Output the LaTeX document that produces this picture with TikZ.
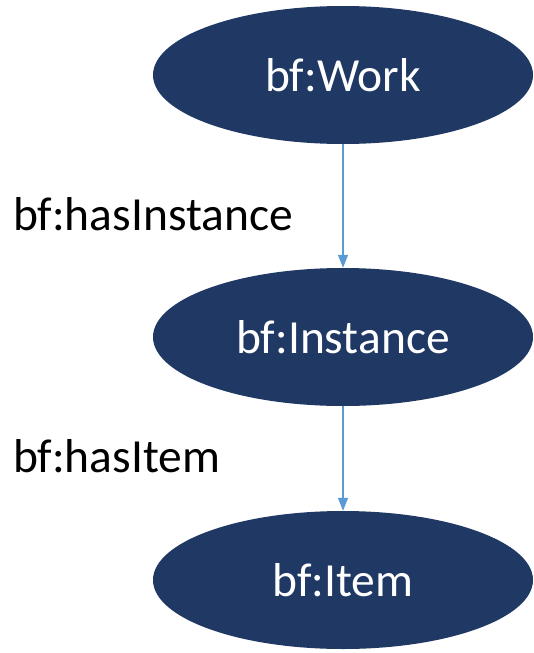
\documentclass[tikz,border=0pt]{standalone}
\usepackage{fontspec}
\setmainfont{Carlito}
\usetikzlibrary{shapes.geometric,arrows.meta}
\definecolor{navy}{RGB}{31,56,100}
\definecolor{linkblue}{RGB}{91,155,213}
\begin{document}
\begin{tikzpicture}[x=1pt,y=-1pt,
  classnode/.style={ellipse, fill=navy, draw=none, minimum width=380pt, minimum height=138pt, inner sep=0pt, text=white, font=\fontsize{47.5}{50}\selectfont},
  proplabel/.style={anchor=base west, inner sep=0pt, text=black, font=\fontsize{47.5}{50}\selectfont},
  link/.style={draw=linkblue, line width=1.3pt, -{Triangle[length=13pt,width=10pt]}}]
\useasboundingbox (0,0) rectangle (534,653);
\node[classnode] (work) at (343,75) {bf:Work};
\node[classnode] (inst) at (343,337) {bf:Instance};
\node[classnode] (item) at (343,580) {bf:Item};
\draw[link] (work.south) -- (inst.north);
\draw[link] (inst.south) -- (item.north);
\node[proplabel] (l1) at (13,230) {bf:hasInstance};
\node[proplabel] (l2) at (13,472) {bf:hasItem};
\end{tikzpicture}
\end{document}
